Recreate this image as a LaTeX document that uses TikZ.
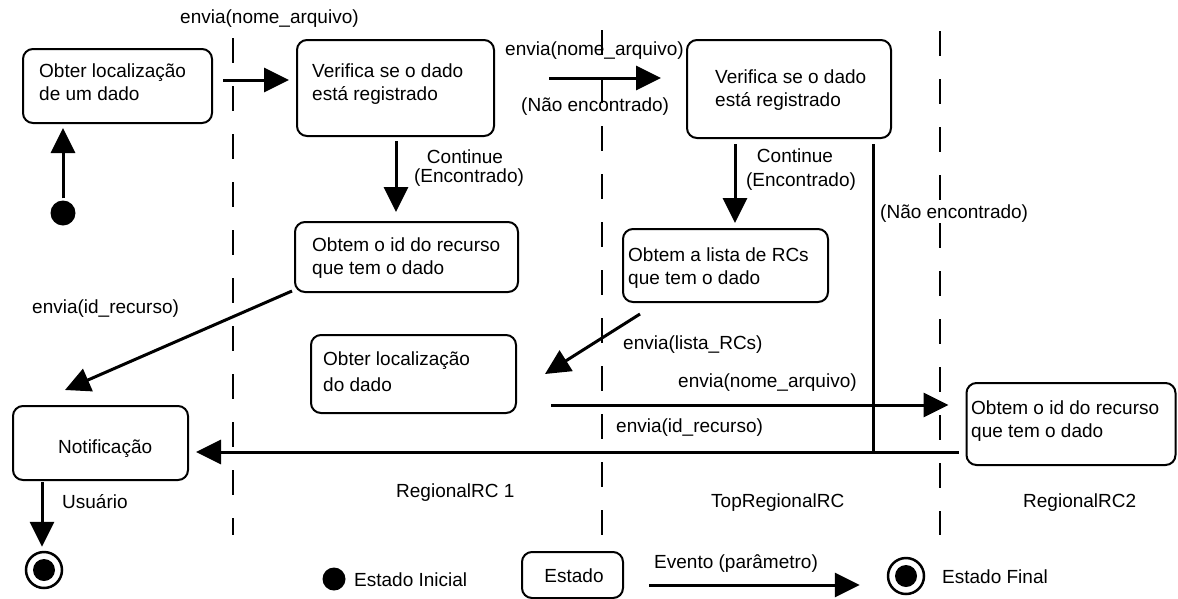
\documentclass[tikz,border=0pt]{standalone}
\usepackage{fontspec}
\setmainfont{Liberation Sans}
\usetikzlibrary{arrows.meta,calc}
\begin{document}
\begin{tikzpicture}[x=1pt,y=-1pt,
  font=\fontsize{19}{23}\selectfont,
  box/.style={draw, line width=2pt, rounded corners=10pt, inner sep=0pt},
  txt/.style={anchor=base west, inner sep=0pt, align=left},
  ctxt/.style={anchor=base, inner sep=0pt},
  arr/.style={line width=3pt, -{Triangle[length=25pt,width=24pt]}},
  plainline/.style={line width=3pt},
  lane/.style={line width=2.5pt, dash pattern=on 25pt off 23pt},
  initst/.style={circle, fill, inner sep=0pt, minimum size=#1},
  finst/.style={circle, draw, line width=2.5pt, inner sep=0pt, minimum size=#1}
]
\fill[white] (0,0) rectangle (1178,598);
\useasboundingbox (0,0) rectangle (1178,598);

% swimlane separators
\draw[lane] (233,38) -- (233,535);
\draw[lane] (602,30) -- (602,535);
\draw[lane] (940,31) -- (940,535);

% states
\node[box, minimum width=189pt, minimum height=74pt] (A) at (117.5,86) {};
\node[box, minimum width=197pt, minimum height=96pt] (B) at (395.5,88) {};
\node[box, minimum width=204pt, minimum height=98pt] (C) at (789,89) {};
\node[box, minimum width=223pt, minimum height=70pt] (D) at (406.5,257) {};
\node[box, minimum width=205pt, minimum height=73pt] (E) at (725.5,265.5) {};
\node[box, minimum width=205pt, minimum height=78pt] (F) at (413.5,374) {};
\node[box, minimum width=209pt, minimum height=82pt] (G) at (1071,424) {};
\node[box, minimum width=175pt, minimum height=74pt] (H) at (100.5,443) {};
\node[box, minimum width=101pt, minimum height=46pt] (L) at (572.5,575) {};

% multi-line texts: base anchor is the baseline of the last line
\node[txt] (At) at (39,100) {Obter localização\\de um dado};
\node[txt] (Bt) at (312,100) {Verifica se o dado\\está registrado};
\node[txt] (Ct) at (715,106) {Verifica se o dado\\está registrado};
\node[txt] (Dt) at (312,274) {Obtem o id do recurso\\que tem o dado};
\node[txt] (Et) at (628,284) {Obtem a lista de RCs\\que tem o dado};
\node[txt] (Ft) at (323,391) {Obter localização\\[3pt]do dado};
\node[txt] (Gt) at (971,437) {Obtem o id do recurso\\que tem o dado};
\node[txt] (Ht) at (58,453) {Notificação};
\node[ctxt] (Lt) at (574,582) {Estado};

% pseudo states
\node[initst=25pt] (I) at (63,213) {};
\node[finst=36pt] (Z) at (44,570) {};
\fill (Z.center) circle (11pt);
\node[initst=23pt] (LI) at (334,579) {};
\node[finst=36pt] (LZ) at (906,576) {};
\fill (LZ.center) circle (11pt);

% transitions
\draw[arr] ($(I.north)+(0,-2)$) -- ($(A.south)+(-54.5,4)$);
\draw[arr] ($(A.east)+(10,-6)$) -- ($(B.west)+(-7,-8)$);
\draw[arr] ($(B.east)+(54,-10)$) -- ($(C.west)+(-25,-11)$);
\draw[arr] ($(B.south)+(0.5,4)$) -- ($(D.north)+(-10.5,-9)$);
\draw[arr] ($(C.south)+(-54,5)$) -- ($(E.north)+(9.5,-5)$);
\coordinate (gs) at ($(G.west)+(-7,28)$);
\draw[arr] (gs) -- ($(H.east)+(7,9)$);
\draw[plainline] ($(C.south)+(84,5)$) coordinate (cs) -- (cs |- gs);
\draw[arr] ($(D.south west)+(-2,-2)$) -- ($(H.north)+(-35.5,-15)$);
\draw[arr] ($(E.south west)+(18,11)$) -- ($(F.east)+(28,0)$);
\draw[arr] ($(F.east)+(34,31)$) -- ($(G.west)+(-17,-19)$);
\draw[arr] ($(H.south)+(-58.5,1)$) -- ($(Z.north)+(-2,-4)$);
\draw[arr] ($(L.east)+(25,10)$) -- ($(LZ.west)+(-27,9)$);

% labels
\node[txt] (l1) at (180,23) {envia(nome\_arquivo)};
\node[txt] (l2) at (505,55) {envia(nome\_arquivo)};
\node[txt] (l3) at (521,111) {(Não encontrado)};
\node[ctxt] (l4) at (465,163) {Continue};
\node[ctxt] (l4b) at (469,182) {(Encontrado)};
\node[ctxt] (l5) at (795,162) {Continue};
\node[ctxt] (l5b) at (801,186) {(Encontrado)};
\node[txt] (l6) at (880,218) {(Não encontrado)};
\node[txt] (l7) at (32,313) {envia(id\_recurso)};
\node[txt] (l8) at (623,349) {envia(lista\_RCs)};
\node[txt] (l9) at (678,387) {envia(nome\_arquivo)};
\node[txt] (l10) at (616,432) {envia(id\_recurso)};
\node[txt] (l11) at (396,497) {RegionalRC 1};
\node[txt] (l12) at (711,507) {TopRegionalRC};
\node[txt] (l13) at (1023,507) {RegionalRC2};
\node[txt] (l14) at (62,508) {Usuário};
\node[txt] (l15) at (354,586) {Estado Inicial};
\node[txt] (l17) at (654,568) {Evento (parâmetro)};
\node[txt] (l18) at (942,583) {Estado Final};
\end{tikzpicture}
\end{document}
